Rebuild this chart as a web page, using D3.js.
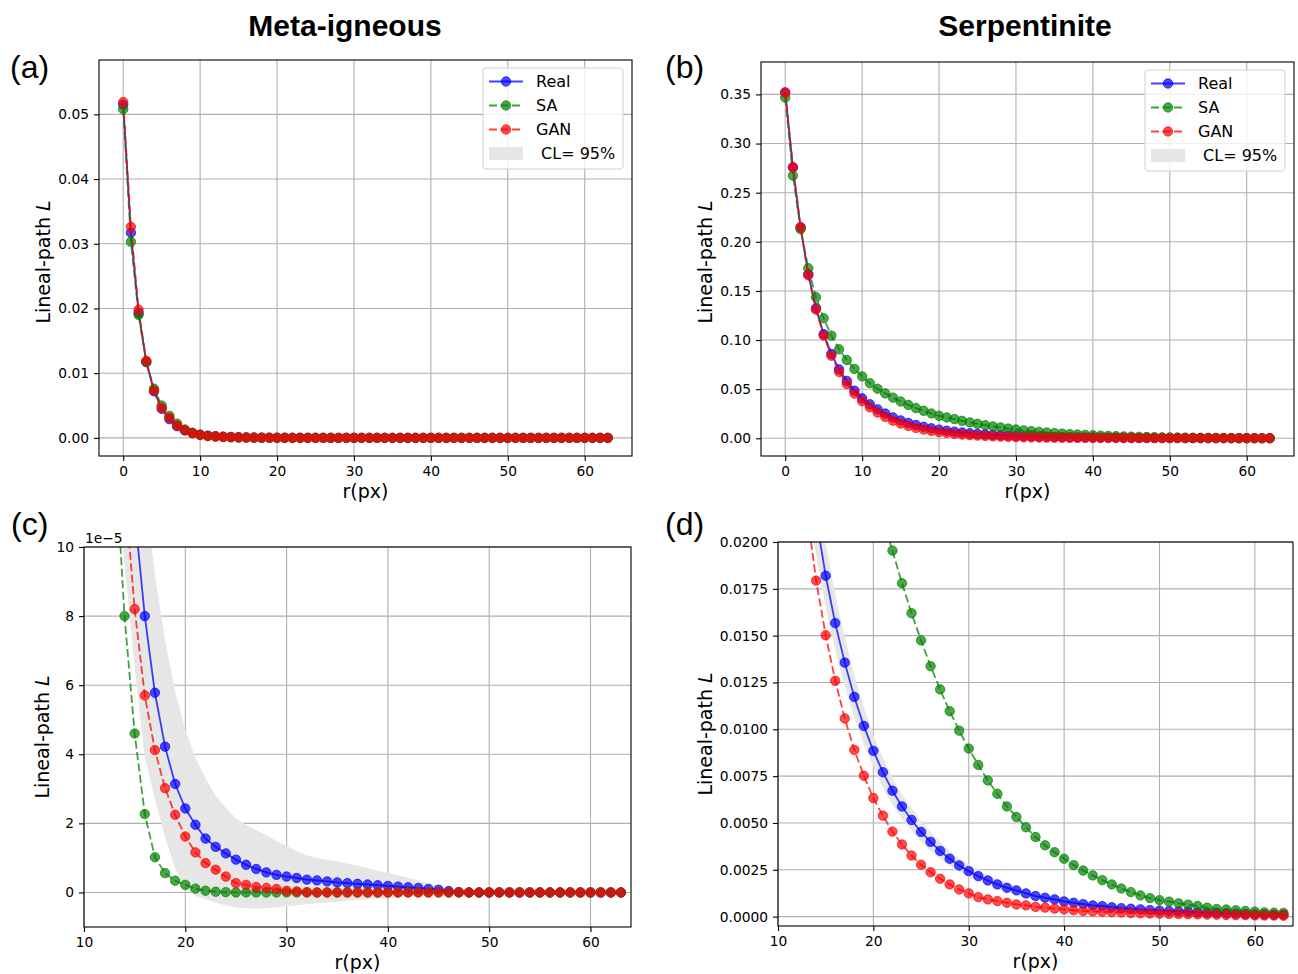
<!DOCTYPE html>
<html>
<head>
<meta charset="utf-8">
<script src="https://cdn.jsdelivr.net/npm/d3@7"></script>
<style>
body { margin: 0; background: #fff; }
svg text { font-family: "DejaVu Sans", sans-serif; fill: #000; }
.grid line { stroke: #b0b0b0; stroke-width: 1.1; }
.axis text { font-size: 13.8px; }
.axis line { stroke: #000; stroke-width: 1.1; }
.axis path { display: none; }
.title { font-family: "Liberation Sans", Arial, sans-serif !important; font-weight: bold; font-size: 30px; }
.plabel { font-family: "Liberation Sans", Arial, sans-serif !important; font-size: 32px; }
.axis-label { font-size: 19px; }
.legend text { font-size: 16px; white-space: pre; }
</style>
</head>
<body>
<svg id="chart" width="1298" height="974"></svg>
<script>
// r(px) lags
const r = [0,1,2,3,4,5,6,7,8,9,10,11,12,13,14,15,16,17,18,19,20,21,22,23,24,25,26,27,28,29,30,31,
  32,33,34,35,36,37,38,39,40,41,42,43,44,45,46,47,48,49,50,51,52,53,54,55,56,57,58,59,60,61,62,63];

// Meta-igneous
const metaReal = [0.0515,0.0317,0.0193,0.0117,0.0072,0.0045,0.0029,0.0018,0.00115,0.00075,0.0005,0.00034,
  0.00025,0.000195,0.000148,0.000110,8.0e-5,5.78e-5,4.22e-5,3.14e-5,2.43e-5,1.96e-5,1.56e-5,1.32e-5,1.13e-5,
  9.5e-6,8.0e-6,6.8e-6,5.8e-6,5.1e-6,4.6e-6,4.2e-6,3.7e-6,3.5e-6,3.2e-6,2.9e-6,2.7e-6,2.5e-6,2.3e-6,2.1e-6,
  1.9e-6,1.7e-6,1.5e-6,1.3e-6,1.0e-6,8e-7,4e-7,1e-7,0,0,0,0,0,0,0,0,0,0,0,0,0,0,0,0];
const metaSA = [0.0508,0.0303,0.0190,0.01175,0.0076,0.0050,0.0034,0.0022,0.0013,0.0008,0.00048,0.0003,
  0.0002,0.00013,8.0e-5,4.6e-5,2.27e-5,1.02e-5,5.6e-6,3.4e-6,2.2e-6,1.1e-6,5e-7,2e-7,1e-7,0,0,0,0,0,0,0,
  0,0,0,0,0,0,0,0,0,0,0,0,0,0,0,0,0,0,0,0,0,0,0,0,0,0,0,0,0,0,0,0];
const metaGAN = [0.0519,0.0326,0.0198,0.0119,0.0073,0.0046,0.0031,0.0019,0.0012,0.0007,0.00045,0.0003,
  0.00022,0.00016,0.000118,8.2e-5,5.7e-5,4.12e-5,3.02e-5,2.25e-5,1.62e-5,1.16e-5,8.5e-6,6.6e-6,4.6e-6,2.7e-6,
  2.2e-6,1.6e-6,1.3e-6,1.0e-6,5e-7,3e-7,1e-7,0,0,0,0,0,0,0,0,0,0,0,0,0,0,0,0,0,0,0,0,0,0,0,0,0,0,0,0,0,0,0];
const metaLow = [0.0490,0.0300,0.0182,0.0109,0.0066,0.0041,0.0026,0.0016,0.00095,0.0006,0.00038,0.00024,
  0.00016,0.00012,9.5e-5,6.5e-5,3.9e-5,2.7e-5,1.6e-5,7e-6,1.5e-6,-1.0e-6,-2.0e-6,-3.0e-6,-3.8e-6,-4.3e-6,
  -4.6e-6,-4.7e-6,-4.6e-6,-4.3e-6,-4.0e-6,-3.7e-6,-3.4e-6,-3.1e-6,-2.9e-6,-2.7e-6,-2.4e-6,-2.2e-6,-2.0e-6,
  -1.8e-6,-1.6e-6,-1.4e-6,-1.2e-6,-9e-7,-6e-7,-4e-7,-2e-7,0,0,0,0,0,0,0,0,0,0,0,0,0,0,0,0,0];
const metaHigh = [0.0540,0.0335,0.0205,0.0125,0.0078,0.0050,0.0032,0.0020,0.00125,0.0008,0.00052,0.00036,
  0.00027,0.00022,0.0002,0.000140,0.000116,9.2e-5,7.3e-5,5.8e-5,4.7e-5,3.9e-5,3.3e-5,2.8e-5,2.45e-5,2.15e-5,
  1.95e-5,1.8e-5,1.65e-5,1.5e-5,1.35e-5,1.2e-5,1.08e-5,1.0e-5,9.5e-6,9.0e-6,8.4e-6,7.7e-6,7.0e-6,6.3e-6,
  5.6e-6,5.0e-6,4.2e-6,3.5e-6,2.7e-6,1.8e-6,1.0e-6,0,0,0,0,0,0,0,0,0,0,0,0,0,0,0,0,0];

// Serpentinite
const serpReal = [0.352,0.2756,0.2145,0.167,0.1324,0.106,0.0859,0.0702,0.0584,0.0485,0.0407,0.0346,0.0295,
  0.0252,0.0213,0.0182,0.01567,0.01356,0.01173,0.01018,0.00885,0.00771,0.00672,0.00588,0.00516,0.00452,
  0.00399,0.00351,0.00309,0.00273,0.00243,0.00216,0.00193,0.00172,0.00154,0.0014,0.00124,0.0011,0.00101,
  0.00092,0.00081,0.00074,0.00067,0.0006,0.00056,0.0005,0.00045,0.00042,0.00039,0.00035,0.00032,0.0003,
  0.00028,0.00026,0.00023,0.00021,0.0002,0.00018,0.00016,0.00014,0.00012,0.00011,0.0001,0.0001];
const serpSA = [0.3468,0.2674,0.2128,0.1731,0.1436,0.1222,0.1045,0.0906,0.0797,0.0706,0.0630,0.0562,0.0505,
  0.0457,0.0414,0.0375,0.0340,0.0308,0.0280,0.0253,0.0229,0.0212,0.01954,0.0178,0.0162,0.01475,0.01337,
  0.01213,0.01097,0.00993,0.00897,0.0081,0.00727,0.00656,0.00588,0.00532,0.00477,0.00425,0.00381,0.00344,
  0.00309,0.00275,0.00246,0.0022,0.00195,0.00172,0.0015,0.00131,0.00113,0.00099,0.00088,0.0008,0.00071,
  0.00064,0.00057,0.00048,0.00041,0.00038,0.00034,0.0003,0.00027,0.00023,0.00021,0.0002];
const serpGAN = [0.352,0.276,0.215,0.166,0.131,0.1045,0.084,0.0675,0.0553,0.0455,0.0378,0.0315,0.0262,
  0.0218,0.01794,0.01502,0.01259,0.01058,0.0089,0.00752,0.00633,0.00539,0.00454,0.00385,0.00326,0.00277,
  0.00237,0.00202,0.00172,0.00145,0.00124,0.00104,0.00092,0.00083,0.00074,0.00065,0.0006,0.00052,0.00048,
  0.00043,0.00039,0.00034,0.0003,0.00028,0.00026,0.00024,0.00022,0.0002,0.00018,0.00017,0.00016,0.00015,
  0.00014,0.00013,0.00012,0.00011,0.0001,0.00009,0.00008,0.00008,0.00007,0.00006,0.00006,0.00005];
const serpLow = [0.340,0.266,0.207,0.161,0.1275,0.1018,0.0823,0.0671,0.0557,0.0461,0.0386,0.0327,0.0270,
  0.0228,0.0193,0.0165,0.0142,0.0123,0.0106,0.0092,0.0080,0.0069,0.0060,0.0052,0.0046,0.0040,0.0035,0.0031,
  0.0027,0.0024,0.0021,0.0019,0.0017,0.0015,0.0013,0.0012,0.0010,0.0009,0.0008,0.0007,0.0006,0.00055,0.0005,
  0.00044,0.0004,0.00035,0.00031,0.00029,0.00027,0.00024,0.00022,0.0002,0.00019,0.00017,0.00015,0.00014,
  0.00013,0.00012,0.0001,0.00009,0.00008,0.00007,0.00006,0.00006];
const serpHigh = [0.364,0.285,0.222,0.173,0.1373,0.1102,0.0895,0.0733,0.0611,0.0509,0.0428,0.0365,0.0320,
  0.0276,0.0233,0.0199,0.0172,0.0149,0.0129,0.0112,0.0097,0.0085,0.0074,0.0065,0.0058,0.0051,0.0045,0.0040,
  0.0035,0.0031,0.0028,0.0025,0.0022,0.0020,0.0018,0.0016,0.0014,0.0013,0.0012,0.0011,0.0010,0.00093,0.00085,
  0.00077,0.00072,0.00065,0.00059,0.00055,0.00051,0.00046,0.00042,0.0004,0.00037,0.00035,0.00031,0.00028,
  0.00027,0.00024,0.00022,0.00019,0.00016,0.00015,0.00014,0.00014];

// tick labels
const xTicksFull = [0, 10, 20, 30, 40, 50, 60];
const xTicksZoom = [10, 20, 30, 40, 50, 60];
const yTicksA = [0, 0.01, 0.02, 0.03, 0.04, 0.05];
const yTicksB = [0, 0.05, 0.10, 0.15, 0.20, 0.25, 0.30, 0.35];
const yTicksC = [0, 2e-5, 4e-5, 6e-5, 8e-5, 10e-5];
const yTicksD = [0, 0.0025, 0.005, 0.0075, 0.01, 0.0125, 0.015, 0.0175, 0.02];

const seriesNames = ["Real", "SA", "GAN"];
const colors = { Real: "#0000ff", SA: "#008000", GAN: "#ff0000" };
const dashes = { Real: null, SA: "8,3.5", GAN: "8,3.5" };

const meta = { Real: metaReal, SA: metaSA, GAN: metaGAN, low: metaLow, high: metaHigh };
const serp = { Real: serpReal, SA: serpSA, GAN: serpGAN, low: serpLow, high: serpHigh };

const svg = d3.select("#chart");

const panels = [
  { label: "(a)", lx: 10, ly: 78, box: { left: 99, right: 632, top: 60, bottom: 456 },
    xd: [-3.15, 66.15], yd: [-0.0028, 0.0584], xt: xTicksFull, yt: yTicksA, yf: d3.format(".2f"),
    data: meta, legend: true, ylx: 43, yly: 262 },
  { label: "(b)", lx: 665, ly: 78, box: { left: 761, right: 1294, top: 62, bottom: 456 },
    xd: [-3.15, 66.15], yd: [-0.018, 0.383], xt: xTicksFull, yt: yTicksB, yf: d3.format(".2f"),
    data: serp, legend: true, ylx: 705, yly: 262 },
  { label: "(c)", lx: 11, ly: 535, box: { left: 84, right: 631, top: 547, bottom: 927 },
    xd: [10, 64], yd: [-1e-5, 10e-5], xt: xTicksZoom, yt: yTicksC, yf: d => d3.format("d")(Math.round(d * 1e5)),
    data: meta, legend: false, ylx: 42, yly: 737, offset: "1e\u22125" },
  { label: "(d)", lx: 665, ly: 535, box: { left: 778, right: 1293, top: 542, bottom: 926 },
    xd: [10, 64], yd: [-0.0005, 0.02], xt: xTicksZoom, yt: yTicksD, yf: d3.format(".4f"),
    data: serp, legend: false, ylx: 705, yly: 734 }
];

panels.forEach((p, k) => {
  const b = p.box;
  const x = d3.scaleLinear().domain(p.xd).range([b.left, b.right]);
  const y = d3.scaleLinear().domain(p.yd).range([b.bottom, b.top]);
  const g = svg.append("g");

  g.append("clipPath").attr("id", `clip${k}`)
    .append("rect").attr("x", b.left).attr("y", b.top)
    .attr("width", b.right - b.left).attr("height", b.bottom - b.top);

  // grid
  const grid = g.append("g").attr("class", "grid");
  grid.selectAll(".gx").data(p.xt).join("line").attr("class", "gx")
    .attr("x1", d => x(d)).attr("x2", d => x(d)).attr("y1", b.top).attr("y2", b.bottom);
  grid.selectAll(".gy").data(p.yt).join("line").attr("class", "gy")
    .attr("x1", b.left).attr("x2", b.right).attr("y1", d => y(d)).attr("y2", d => y(d));

  const plot = g.append("g").attr("clip-path", `url(#clip${k})`);

  // confidence band
  const band = d3.area()
    .x((d, i) => x(r[i]))
    .y0((d, i) => y(p.data.low[i]))
    .y1((d, i) => y(p.data.high[i]));
  plot.append("path").datum(r).attr("d", band).attr("fill", "#e6e6e6");

  const line = d3.line().x((d, i) => x(r[i])).y(d => y(d));

  seriesNames.forEach(name => {
    const vals = p.data[name];
    plot.append("path").datum(vals)
      .attr("d", line)
      .attr("fill", "none")
      .attr("stroke", colors[name])
      .attr("stroke-opacity", 0.75)
      .attr("stroke-width", 1.8)
      .attr("stroke-dasharray", dashes[name]);
    plot.append("g").selectAll("circle").data(vals).join("circle")
      .attr("cx", (d, i) => x(r[i]))
      .attr("cy", d => y(d))
      .attr("r", 4.7)
      .attr("fill", colors[name])
      .attr("fill-opacity", 0.7)
      .attr("stroke", colors[name])
      .attr("stroke-opacity", 0.7)
      .attr("stroke-width", 1);
  });

  // axes
  g.append("g").attr("class", "axis")
    .attr("transform", `translate(0,${b.bottom})`)
    .call(d3.axisBottom(x).tickValues(p.xt).tickSize(5).tickPadding(5).tickFormat(d3.format("d")));
  g.append("g").attr("class", "axis")
    .attr("transform", `translate(${b.left},0)`)
    .call(d3.axisLeft(y).tickValues(p.yt).tickSize(5).tickPadding(5).tickFormat(p.yf));

  g.append("rect")
    .attr("x", b.left).attr("y", b.top)
    .attr("width", b.right - b.left).attr("height", b.bottom - b.top)
    .attr("fill", "none").attr("stroke", "#000").attr("stroke-width", 1.1);

  if (p.offset) {
    g.append("text").attr("x", b.left + 1).attr("y", b.top - 4)
      .style("font-size", "13.8px").text(p.offset);
  }

  // axis labels
  g.append("text").attr("class", "axis-label")
    .attr("x", (b.left + b.right) / 2).attr("y", b.bottom + 42)
    .attr("text-anchor", "middle").text("r(px)");
  const yl = g.append("text").attr("class", "axis-label")
    .attr("transform", `translate(${p.ylx + 7},${p.yly}) rotate(-90)`)
    .attr("text-anchor", "middle");
  yl.append("tspan").text("Lineal-path ");
  yl.append("tspan").style("font-style", "italic").text("L");

  g.append("text").attr("class", "plabel").attr("x", p.lx).attr("y", p.ly).text(p.label);

  if (p.legend) {
    const lx = b.right - 149, ly = b.top + 8;
    const lg = g.append("g").attr("class", "legend");
    lg.append("rect").attr("x", lx).attr("y", ly).attr("width", 140).attr("height", 101)
      .attr("rx", 3).attr("fill", "#fff").attr("fill-opacity", 0.8)
      .attr("stroke", "#d0d0d0").attr("stroke-width", 1);
    seriesNames.forEach((name, i) => {
      const cy = ly + 13.5 + i * 24;
      lg.append("line").attr("x1", lx + 6).attr("x2", lx + 40).attr("y1", cy).attr("y2", cy)
        .attr("stroke", colors[name]).attr("stroke-opacity", 0.75).attr("stroke-width", 1.8)
        .attr("stroke-dasharray", dashes[name]);
      lg.append("circle").attr("cx", lx + 23).attr("cy", cy).attr("r", 4.7)
        .attr("fill", colors[name]).attr("fill-opacity", 0.7)
        .attr("stroke", colors[name]).attr("stroke-opacity", 0.7);
      lg.append("text").attr("x", lx + 53).attr("y", cy).attr("dy", "0.36em").text(name);
    });
    const cy = ly + 85.5;
    lg.append("rect").attr("x", lx + 6).attr("y", cy - 6.5).attr("width", 34).attr("height", 13)
      .attr("fill", "#e6e6e6");
    lg.append("text").attr("x", lx + 53).attr("y", cy).attr("dy", "0.36em").text(" CL= 95%");
  }
});

// column titles
svg.append("text").attr("class", "title").attr("x", 345).attr("y", 36)
  .attr("text-anchor", "middle").text("Meta-igneous");
svg.append("text").attr("class", "title").attr("x", 1025).attr("y", 36)
  .attr("text-anchor", "middle").text("Serpentinite");
</script>
</body>
</html>
